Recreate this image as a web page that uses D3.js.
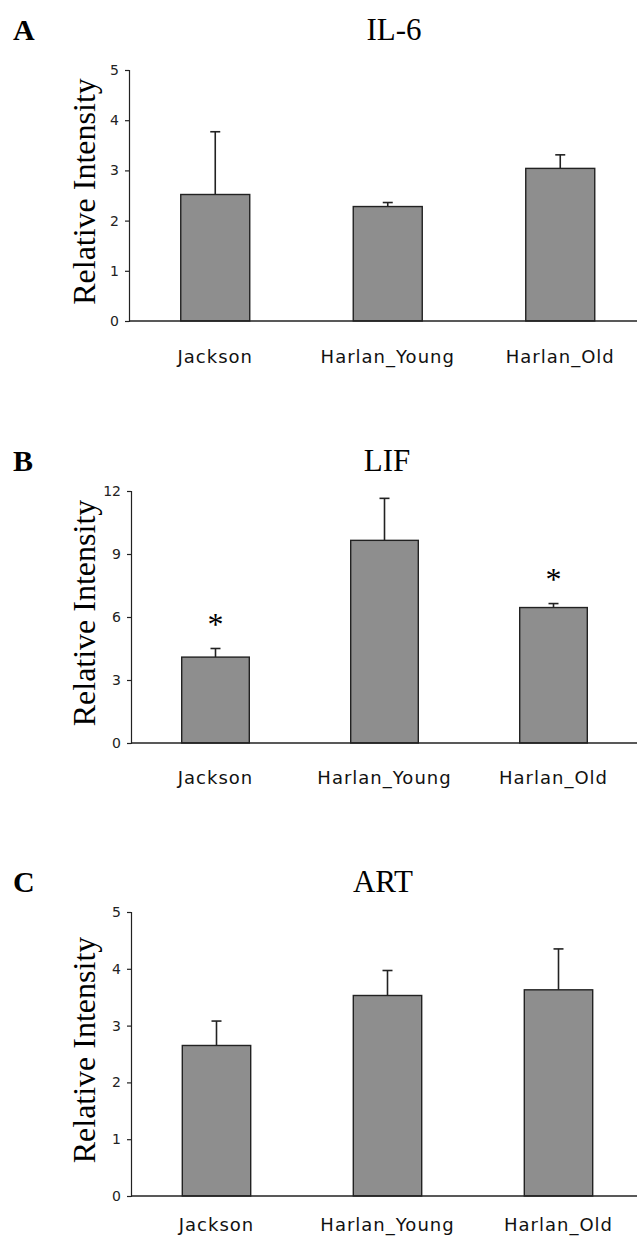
<!DOCTYPE html>
<html>
<head>
<meta charset="utf-8">
<script src="https://cdn.jsdelivr.net/npm/d3@7"></script>
<style>
  body { margin: 0; background: #fff; }
  svg { display: block; }
</style>
</head>
<body>
<svg width="637" height="1241"></svg>
<script>
// Data
const categories = ['Jackson', 'Harlan_Young', 'Harlan_Old'];

const il6_values = [2.52, 2.28, 3.04];
const il6_errors = [1.25, 0.08, 0.27];
const il6_ticks = [0, 1, 2, 3, 4, 5];

const lif_values = [4.09, 9.65, 6.45];
const lif_errors = [0.41, 2.0, 0.19];
const lif_ticks = [0, 3, 6, 9, 12];
const lif_significant = [true, false, true];

const art_values = [2.65, 3.53, 3.63];
const art_errors = [0.43, 0.44, 0.72];
const art_ticks = [0, 1, 2, 3, 4, 5];

// Layout for each panel
const panels = [
    { letter: 'A', title: 'IL-6', values: il6_values, errors: il6_errors, ticks: il6_ticks, stars: null,
      top: 70, bottom: 321, left: 129, step: 172.5, headY: 40, titleX: 394, labelY: 363 },
    { letter: 'B', title: 'LIF', values: lif_values, errors: lif_errors, ticks: lif_ticks, stars: lif_significant,
      top: 491, bottom: 743, left: 131, step: 169, headY: 471, titleX: 387, labelY: 784 },
    { letter: 'C', title: 'ART', values: art_values, errors: art_errors, ticks: art_ticks, stars: null,
      top: 912, bottom: 1196, left: 131, step: 171, headY: 892, titleX: 383, labelY: 1231 }
];

const svg = d3.select('svg');
const serif = '"Liberation Serif", "Times New Roman", serif';
const sans = 'Verdana, "DejaVu Sans", sans-serif';
const bar_fill = '#8e8e8e';
const ink = '#222';

const render = p => {
    const g = svg.append('g');

    const xScale = d3.scaleBand()
        .domain(categories)
        .range([p.left, p.left + p.step * categories.length])
        .paddingInner(0.6)
        .paddingOuter(0.3);

    const yScale = d3.scaleLinear()
        .domain([0, d3.max(p.ticks)])
        .range([p.bottom, p.top]);

    const rows = categories.map((c, i) => ({ c, v: p.values[i], e: p.errors[i], star: p.stars ? p.stars[i] : false }));

    // Panel letter and title
    g.append('text')
        .attr('x', 13)
        .attr('y', p.headY)
        .attr('font-family', serif)
        .attr('font-weight', 'bold')
        .attr('font-size', '30px')
        .text(p.letter);

    g.append('text')
        .attr('x', p.titleX)
        .attr('y', p.headY)
        .attr('text-anchor', 'middle')
        .attr('font-family', serif)
        .attr('font-size', '31px')
        .text(p.title);

    // Y axis label
    g.append('text')
        .attr('transform', `translate(95, ${(p.top + p.bottom) / 2 - 4}) rotate(-90)`)
        .attr('text-anchor', 'middle')
        .attr('font-family', serif)
        .attr('font-size', '32px')
        .text('Relative Intensity');

    // Error bars
    const err = g.selectAll('.err')
        .data(rows)
        .enter().append('g')
        .attr('class', 'err')
        .attr('stroke', ink)
        .attr('stroke-width', 1.6);
    err.append('line')
        .attr('x1', d => xScale(d.c) + xScale.bandwidth() / 2)
        .attr('x2', d => xScale(d.c) + xScale.bandwidth() / 2)
        .attr('y1', d => yScale(d.v))
        .attr('y2', d => yScale(d.v + d.e));
    err.append('line')
        .attr('x1', d => xScale(d.c) + xScale.bandwidth() / 2 - 5)
        .attr('x2', d => xScale(d.c) + xScale.bandwidth() / 2 + 5)
        .attr('y1', d => yScale(d.v + d.e))
        .attr('y2', d => yScale(d.v + d.e));

    // Bars
    g.selectAll('.bar')
        .data(rows)
        .enter().append('rect')
        .attr('class', 'bar')
        .attr('x', d => xScale(d.c))
        .attr('y', d => yScale(d.v))
        .attr('width', xScale.bandwidth())
        .attr('height', d => yScale(0) - yScale(d.v))
        .attr('fill', bar_fill)
        .attr('stroke', ink)
        .attr('stroke-width', 1.4);

    // Significance stars
    g.selectAll('.star')
        .data(rows.filter(d => d.star))
        .enter().append('text')
        .attr('class', 'star')
        .attr('x', d => xScale(d.c) + xScale.bandwidth() / 2)
        .attr('y', d => yScale(d.v + d.e) - 14)
        .attr('text-anchor', 'middle')
        .attr('font-family', serif)
        .attr('font-size', '32px')
        .text('*');

    // Y axis
    const yAxis = g.append('g')
        .attr('transform', `translate(${p.left}, 0)`)
        .call(d3.axisLeft(yScale).tickValues(p.ticks).tickFormat(d3.format('d'))
            .tickSize(4).tickSizeOuter(4).tickPadding(6));
    yAxis.select('.domain').attr('stroke', ink).attr('stroke-width', 1.2);
    yAxis.selectAll('.tick line').attr('stroke', ink).attr('stroke-width', 1.2);
    yAxis.selectAll('text')
        .attr('font-family', sans)
        .attr('font-size', '14px')
        .attr('fill', '#222');

    // X axis baseline
    g.append('line')
        .attr('x1', p.left)
        .attr('x2', xScale.range()[1])
        .attr('y1', yScale(0))
        .attr('y2', yScale(0))
        .attr('stroke', ink)
        .attr('stroke-width', 1.4);

    // X labels
    g.selectAll('.xlabel')
        .data(rows)
        .enter().append('text')
        .attr('class', 'xlabel')
        .attr('x', d => xScale(d.c) + xScale.bandwidth() / 2)
        .attr('y', p.labelY)
        .attr('text-anchor', 'middle')
        .attr('font-family', sans)
        .attr('font-size', '18px')
        .attr('letter-spacing', '1px')
        .attr('fill', '#111')
        .text(d => d.c);
};

panels.forEach(render);
</script>
</body>
</html>
